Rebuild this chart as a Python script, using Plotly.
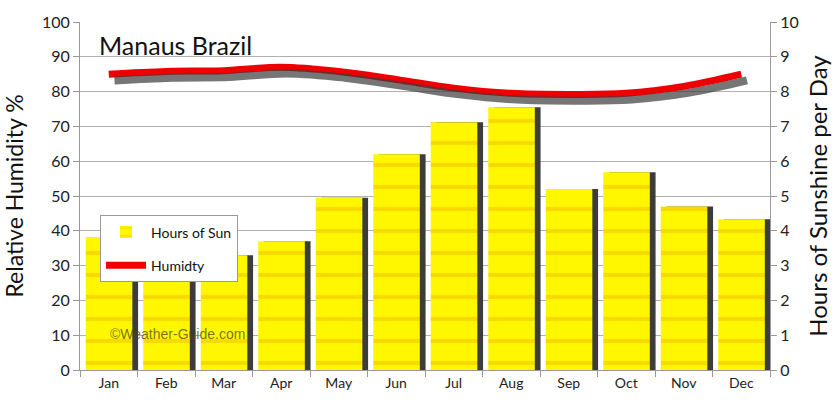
import plotly.graph_objects as go

months = ["Jan", "Feb", "Mar", "Apr", "May", "Jun", "Jul", "Aug", "Sep", "Oct", "Nov", "Dec"]
sun_hours = [3.82, 3.4, 3.3, 3.7, 4.95, 6.2, 7.12, 7.55, 5.2, 5.68, 4.7, 4.33]
humidity = [85, 85.8, 86, 87, 85.8, 83.5, 81, 79.5, 79.2, 79.5, 81.5, 85]

FONT = "Lato"
fig = go.Figure()

# bar shadows (on sunshine axis)
fig.add_trace(go.Bar(x=months, y=sun_hours, yaxis="y2", width=0.81, offset=-0.3,
                     marker=dict(color="#3c3c3c", line=dict(width=0)),
                     showlegend=False, hoverinfo="skip"))
# bars
fig.add_trace(go.Bar(x=months, y=sun_hours, yaxis="y2", width=0.81, offset=-0.4,
                     name="Hours of Sun", legendgroup="sun",
                     marker=dict(color="#FFF500", line=dict(width=0),
                                 pattern=dict(shape="-", fgcolor="#F7DA00", bgcolor="#FFF700",
                                              size=22, solidity=0.18, fillmode="replace"))))
# humidity line shadow
shadow_y = [h - 1.8 for h in humidity]
fig.add_trace(go.Scatter(x=months, y=shadow_y, xaxis="x2", mode="lines",
                         line=dict(color="rgba(60,60,60,0.7)", width=8, shape="spline"),
                         showlegend=False, hoverinfo="skip"))
# humidity line
fig.add_trace(go.Scatter(x=months, y=humidity, mode="lines", name="Humidty", legendgroup="hum",
                         line=dict(color="#EE0000", width=7, shape="spline")))

fig.update_layout(
    width=840, height=411,
    margin=dict(l=80, r=67, t=14, b=41),
    paper_bgcolor="white", plot_bgcolor="white",
    barmode="overlay",
    font=dict(family=FONT, size=15, color="#222"),
    xaxis=dict(type="category", range=[-0.5, 11.5], tickson="boundaries",
               ticks="outside", ticklen=6, tickcolor="#999", showline=True,
               linecolor="#999", showgrid=False, tickfont=dict(size=14, color="#222"),
               zeroline=False),
    xaxis2=dict(type="category", overlaying="x", range=[-0.6, 11.4], visible=False),
    yaxis=dict(range=[0, 100], dtick=10, ticks="outside", ticklen=6, tickcolor="#999",
               showline=True, linecolor="#999", gridcolor="#b0b0b0", gridwidth=1,
               zeroline=False, tickfont=dict(size=16, color="#222"),
               title=dict(text="Relative Humidity %", font=dict(size=23, color="#111"), standoff=14)),
    yaxis2=dict(range=[0, 10], dtick=1, overlaying="y", side="right", ticks="outside",
                ticklen=6, tickcolor="#999", showline=True, linecolor="#999",
                showgrid=False, zeroline=False, tickfont=dict(size=16, color="#222"),
                title=dict(text="Hours of Sunshine per Day", font=dict(size=24, color="#111"), standoff=12)),
    legend=dict(x=0.029, y=0.444, xanchor="left", yanchor="top", bgcolor="white",
                bordercolor="#999", borderwidth=1, font=dict(size=14, color="#111"),
                itemwidth=40, tracegroupgap=12),
    showlegend=True,
)

fig.add_annotation(text="Manaus Brazil", xref="paper", yref="paper", x=0.025, y=0.933,
                   xanchor="left", yanchor="middle", showarrow=False,
                   font=dict(family=FONT, size=25, color="#111"))
fig.add_annotation(text="©Weather-Guide.com", xref="paper", yref="paper", x=0.04, y=0.104,
                   xanchor="left", yanchor="middle", showarrow=False,
                   font=dict(family="Liberation Sans", size=14, color="rgba(80,70,30,0.75)"))

fig.write_html("out.html")
